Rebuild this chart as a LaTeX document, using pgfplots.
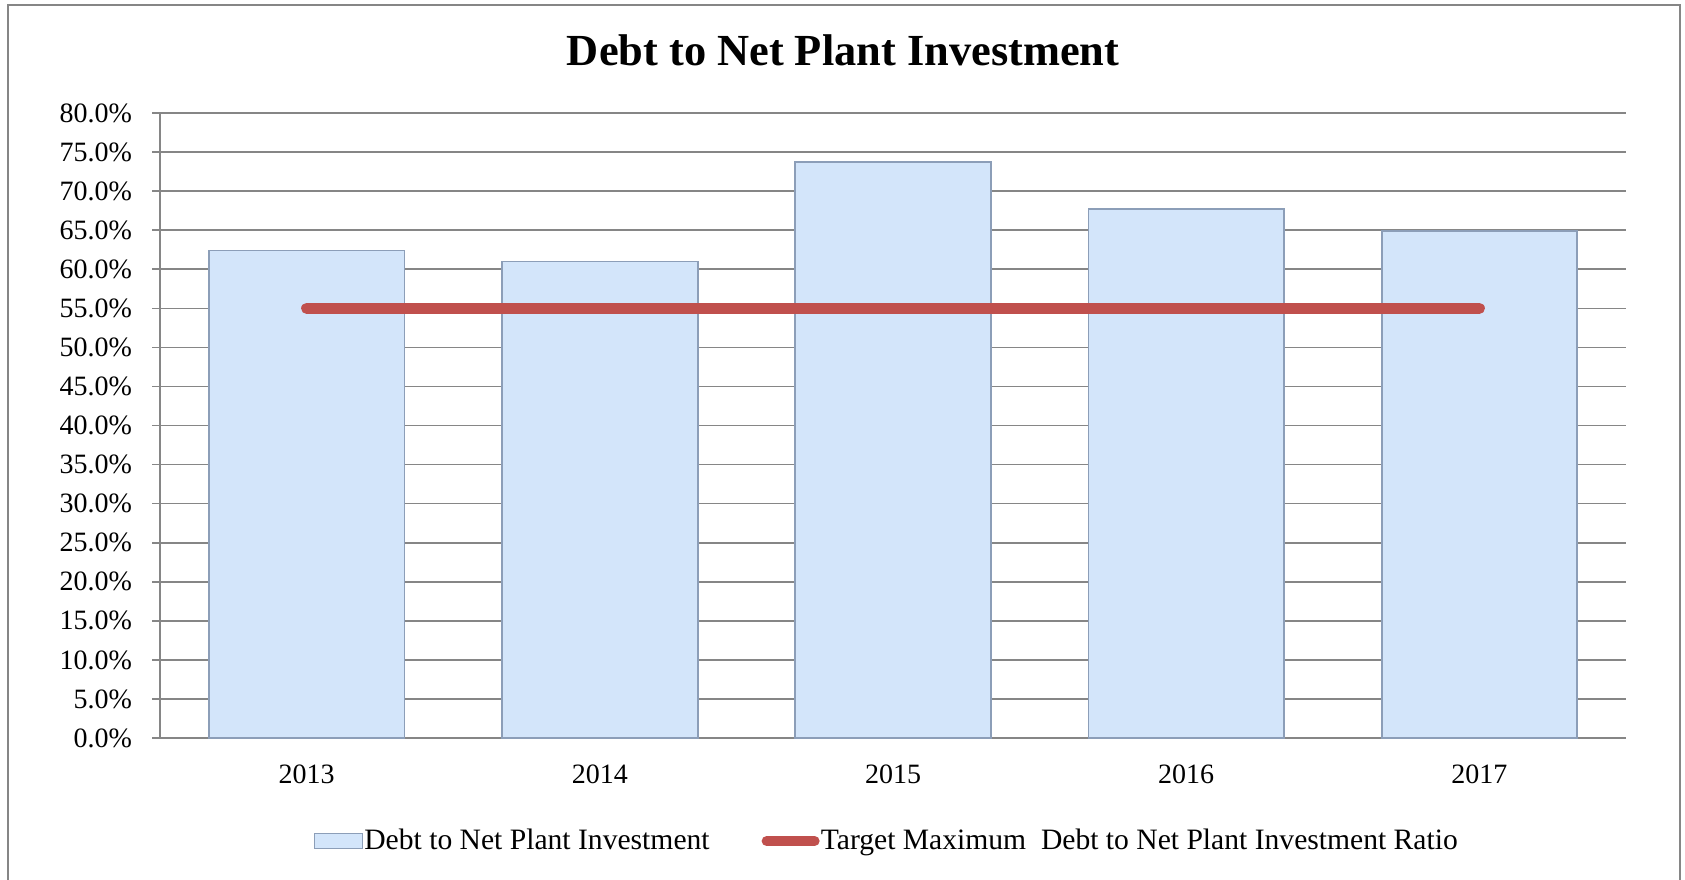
\documentclass[border=0pt]{standalone}
\usepackage{pgfplots}
\pgfplotsset{compat=1.18}
\usepackage{fontspec}
\setmainfont{Liberation Serif}
\definecolor{barfill}{RGB}{211,229,250}
\definecolor{baredge}{RGB}{140,158,184}
\definecolor{tgtred}{RGB}{192,80,77}
\definecolor{gridgray}{RGB}{134,134,134}
\begin{document}
\begin{tikzpicture}
\path[use as bounding box] (0,0) rectangle (842.5pt,-439.5pt);
\draw[gridgray, line width=1pt] (4pt,-460pt) -- (4pt,-2.5pt) -- (840pt,-2.5pt) -- (840pt,-460pt);
\begin{axis}[
  at={(80pt,-369pt)}, anchor=south west,
  scale only axis, width=733pt, height=312.5pt,
  xmin=-0.5, xmax=4.5, ymin=0, ymax=80,
  axis x line*=bottom, axis y line*=left,
  axis line style={gridgray, line width=0.8pt, -},
  ytick={0,5,...,80},
  yticklabels={0.0\%,5.0\%,10.0\%,15.0\%,20.0\%,25.0\%,30.0\%,35.0\%,40.0\%,45.0\%,50.0\%,55.0\%,60.0\%,65.0\%,70.0\%,75.0\%,80.0\%},
  ymajorgrids, grid style={gridgray, line width=0.8pt},
  ytick style={gridgray, line width=0.8pt},
  tick align=outside, major tick length=4pt,
  xtick={0,1,2,3,4},
  xticklabels={2013,2014,2015,2016,2017},
  xtick style={draw=none},
  minor xtick={-0.5,0.5,1.5,2.5,3.5,4.5},
  minor tick length=4.5pt,
  minor x tick style={gridgray, line width=0.8pt},
  tick label style={font=\fontsize{14}{16}\selectfont},
  xticklabel style={yshift=-6pt},
  yticklabel style={xshift=-6.5pt},
  title={Debt to Net Plant Investment},
  title style={font=\fontsize{22.2}{26}\selectfont\bfseries, at={(axis description cs:0.466,1.081)}, anchor=center},
  legend columns=2,
  legend style={at={(axis description cs:0.4965,-0.165)}, anchor=center, draw=none, fill=none,
    font=\fontsize{14.8}{17}\selectfont,
    /tikz/every even column/.append style={column sep=24pt},
    /tikz/every odd column/.append style={column sep=-1.4pt},
    inner sep=0pt, cells={anchor=west}},
]
\addplot[ybar, bar width=97.8pt, fill=barfill, draw=baredge, line width=0.9pt,
  legend image code/.code={\draw[fill=barfill, draw=baredge, line width=0.6pt] (0pt,-3.5pt) rectangle (24pt,4pt);}]
  coordinates {(0,62.4) (1,61.0) (2,73.7) (3,67.7) (4,64.9)};
\addlegendentry{Debt to Net Plant Investment}
\addplot[tgtred, line width=5.5pt, line cap=round, mark=none,
  legend image code/.code={\draw[tgtred, line width=5pt, line cap=round] (2pt,0pt) -- (26pt,0pt);}]
  coordinates {(0,55) (1,55) (2,55) (3,55) (4,55)};
\addlegendentry{Target Maximum\ \ Debt to Net Plant Investment Ratio}
\end{axis}
\end{tikzpicture}
\end{document}
